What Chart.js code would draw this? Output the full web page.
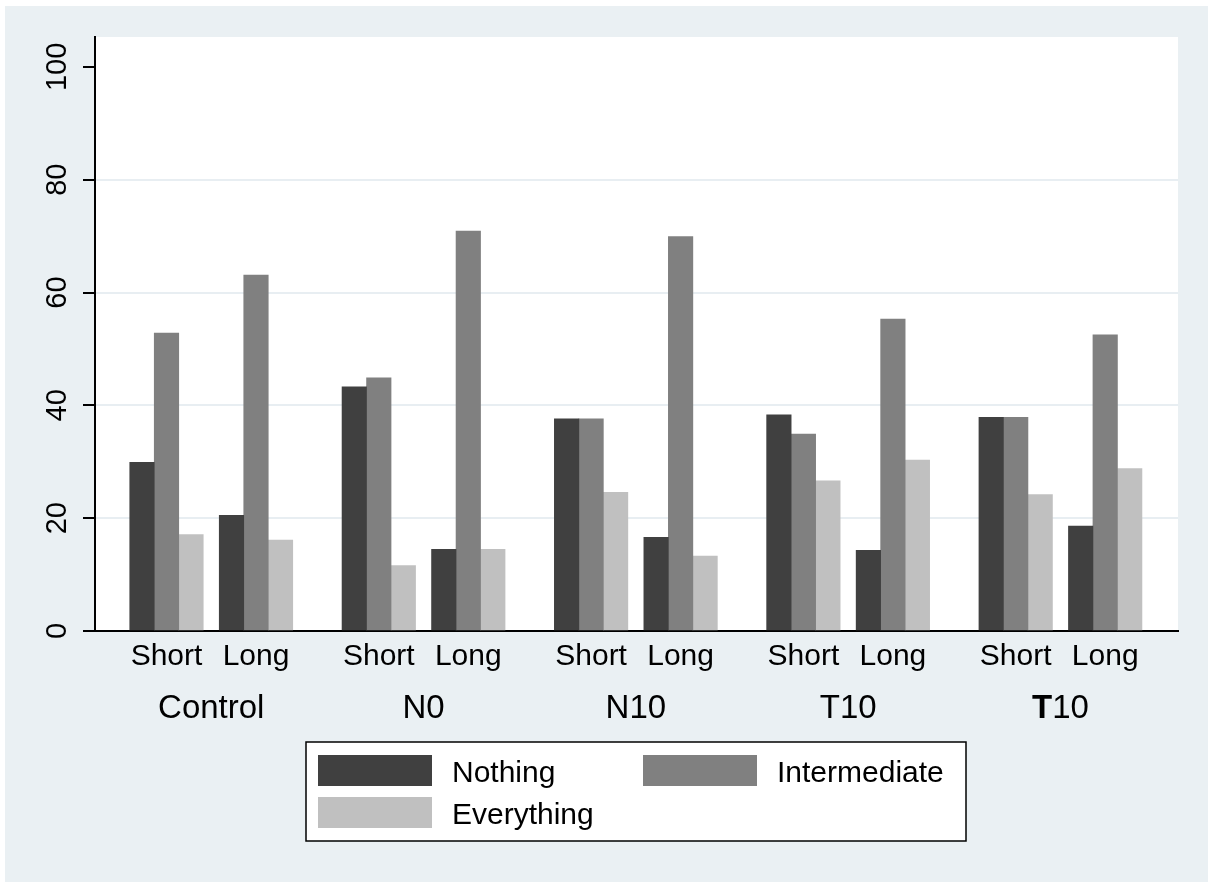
<!DOCTYPE html>
<html>
<head>
<meta charset="utf-8">
<script src="https://cdn.jsdelivr.net/npm/chart.js@4.4.1/dist/chart.umd.min.js"></script>
<style>
  html, body { margin: 0; padding: 0; background: #fff; }
  #wrap { width: 1208px; height: 882px; }
</style>
</head>
<body>
<div id="wrap"><canvas id="my_Chart"></canvas></div>
<script>
// data (percent of answers)
var groups = ['Control', 'N0', 'N10', 'T10', 'T10'];
var groupBold = ['', '', '', '', 'T'];   // leading part of the group name set in bold
var periods = ['Short', 'Long'];
var seriesNames = ['Nothing', 'Intermediate', 'Everything'];
var nothing      = [29.9, 20.5, 43.3, 14.5, 37.6, 16.6, 38.3, 14.3, 37.9, 18.6];
var intermediate = [52.8, 63.1, 44.9, 70.9, 37.6, 69.9, 34.9, 55.3, 37.9, 52.5];
var everything   = [17.1, 16.1, 11.6, 14.5, 24.6, 13.3, 26.6, 30.3, 24.2, 28.8];
var yTicks = [0, 20, 40, 60, 80, 100];

// layout
var FONT = '"Liberation Sans", Arial, Helvetica, sans-serif';
var X_MAX = 1083;                 // x units = pixels of plot width
var FIRST = 71.5, GROUP_STEP = 212.3, PERIOD_STEP = 89.5;
var colors = ['#404040', '#808080', '#c0c0c0'];
var BG = '#eaf0f3';

var xPos = [];
groups.forEach(function(g, gi){
	periods.forEach(function(p, pi){
		xPos.push(FIRST + gi * GROUP_STEP + pi * PERIOD_STEP);
	});
});

function toPoints(vals){
	return vals.map(function(v, i){ return {x: xPos[i], y: v}; });
}

var backdrop = {
	id: 'backdrop',
	beforeDraw: function(chart){
		var c = chart.ctx, a = chart.chartArea;
		c.save();
		c.fillStyle = '#fff';
		c.fillRect(0, 0, chart.width, chart.height);
		c.fillStyle = BG;
		c.fillRect(5, 6, chart.width - 5, chart.height - 6);
		c.fillStyle = '#fff';
		c.fillRect(a.left, a.top, a.right - a.left, a.bottom - a.top);
		c.restore();
	}
};

// group names under the Short/Long ticks (one of them has a bold T)
var groupLabels = {
	id: 'groupLabels',
	afterDraw: function(chart){
		var c = chart.ctx, xs = chart.scales.x;
		c.save();
		c.fillStyle = '#000';
		c.textAlign = 'left';
		c.textBaseline = 'alphabetic';
		groups.forEach(function(g, gi){
			var cx = xs.getPixelForValue(FIRST + gi * GROUP_STEP + PERIOD_STEP / 2);
			var bold = groupBold[gi], rest = g.slice(bold.length);
			c.font = 'bold 33px ' + FONT;
			var bw = c.measureText(bold).width;
			c.font = '33px ' + FONT;
			var rw = c.measureText(rest).width;
			var x0 = cx - (bw + rw) / 2;
			if (bold) {
				c.font = 'bold 33px ' + FONT;
				c.fillText(bold, x0, 718);
			}
			c.font = '33px ' + FONT;
			c.fillText(rest, x0 + bw, 718);
		});
		c.restore();
	}
};

// boxed two-column legend
var boxLegend = {
	id: 'boxLegend',
	afterDraw: function(chart){
		var c = chart.ctx;
		c.save();
		c.fillStyle = '#fff';
		c.fillRect(306, 742, 660, 99);
		c.strokeStyle = '#000';
		c.lineWidth = 1.5;
		c.strokeRect(306, 742, 660, 99);
		chart.data.datasets.forEach(function(ds, i){
			var col = i % 2, row = Math.floor(i / 2);
			var sx = 318 + col * 325, sy = 755 + row * 42;
			c.fillStyle = ds.backgroundColor;
			c.fillRect(sx, sy, 114, 31);
			c.fillStyle = '#000';
			c.font = '30px ' + FONT;
			c.textAlign = 'left';
			c.textBaseline = 'alphabetic';
			c.fillText(ds.label, sx + 134, sy + 26.5);
		});
		c.restore();
	}
};

Chart.defaults.font.family = FONT;
Chart.defaults.color = '#000';

var ctx = document.getElementById('my_Chart').getContext('2d');
var myChart = new Chart(ctx, {
	type: 'bar',
	data: {
		datasets: [
			{ label: seriesNames[0], data: toPoints(nothing), backgroundColor: colors[0] },
			{ label: seriesNames[1], data: toPoints(intermediate), backgroundColor: colors[1] },
			{ label: seriesNames[2], data: toPoints(everything), backgroundColor: colors[2] }
		]
	},
	options: {
		responsive: true,
		maintainAspectRatio: false,
		animation: false,
		layout: { padding: { left: 0, top: 37, right: 30, bottom: 0 } },
		datasets: { bar: { barThickness: 24.5, grouped: true } },
		plugins: {
			legend: { display: false },
			tooltip: { enabled: false }
		},
		scales: {
			x: {
				type: 'linear',
				position: 'bottom',
				offset: false,
				min: 0,
				max: X_MAX,
				grid: { display: false, drawTicks: false, tickLength: 0, offset: false },
				border: { display: true, color: '#000', width: 2 },
				afterBuildTicks: function(s){
					s.ticks = xPos.map(function(v){ return {value: v}; });
				},
				afterFit: function(s){ s.height = 251; },
				ticks: {
					autoSkip: false,
					minRotation: 0,
					maxRotation: 0,
					padding: 8,
					font: { size: 30 },
					color: '#000',
					callback: function(v, i){ return periods[i % periods.length]; }
				}
			},
			y: {
				min: 0,
				max: 105.3,
				grid: {
					color: function(c){
						var v = c.tick ? c.tick.value : null;
						return (v === 0 || v === 100) ? 'rgba(0,0,0,0)' : '#e8eef2';
					},
					lineWidth: 2,
					drawTicks: true,
					tickLength: 12,
					tickColor: '#000',
					tickWidth: 2
				},
				border: { display: true, color: '#000', width: 2 },
				afterBuildTicks: function(s){
					s.ticks = yTicks.map(function(v){ return {value: v}; });
				},
				afterFit: function(s){ s.width = 95; },
				ticks: {
					minRotation: 90,
					maxRotation: 90,
					crossAlign: 'center',
					padding: 1,
					font: { size: 29 },
					color: '#000'
				}
			}
		}
	},
	plugins: [backdrop, groupLabels, boxLegend]
});
</script>
</body>
</html>
